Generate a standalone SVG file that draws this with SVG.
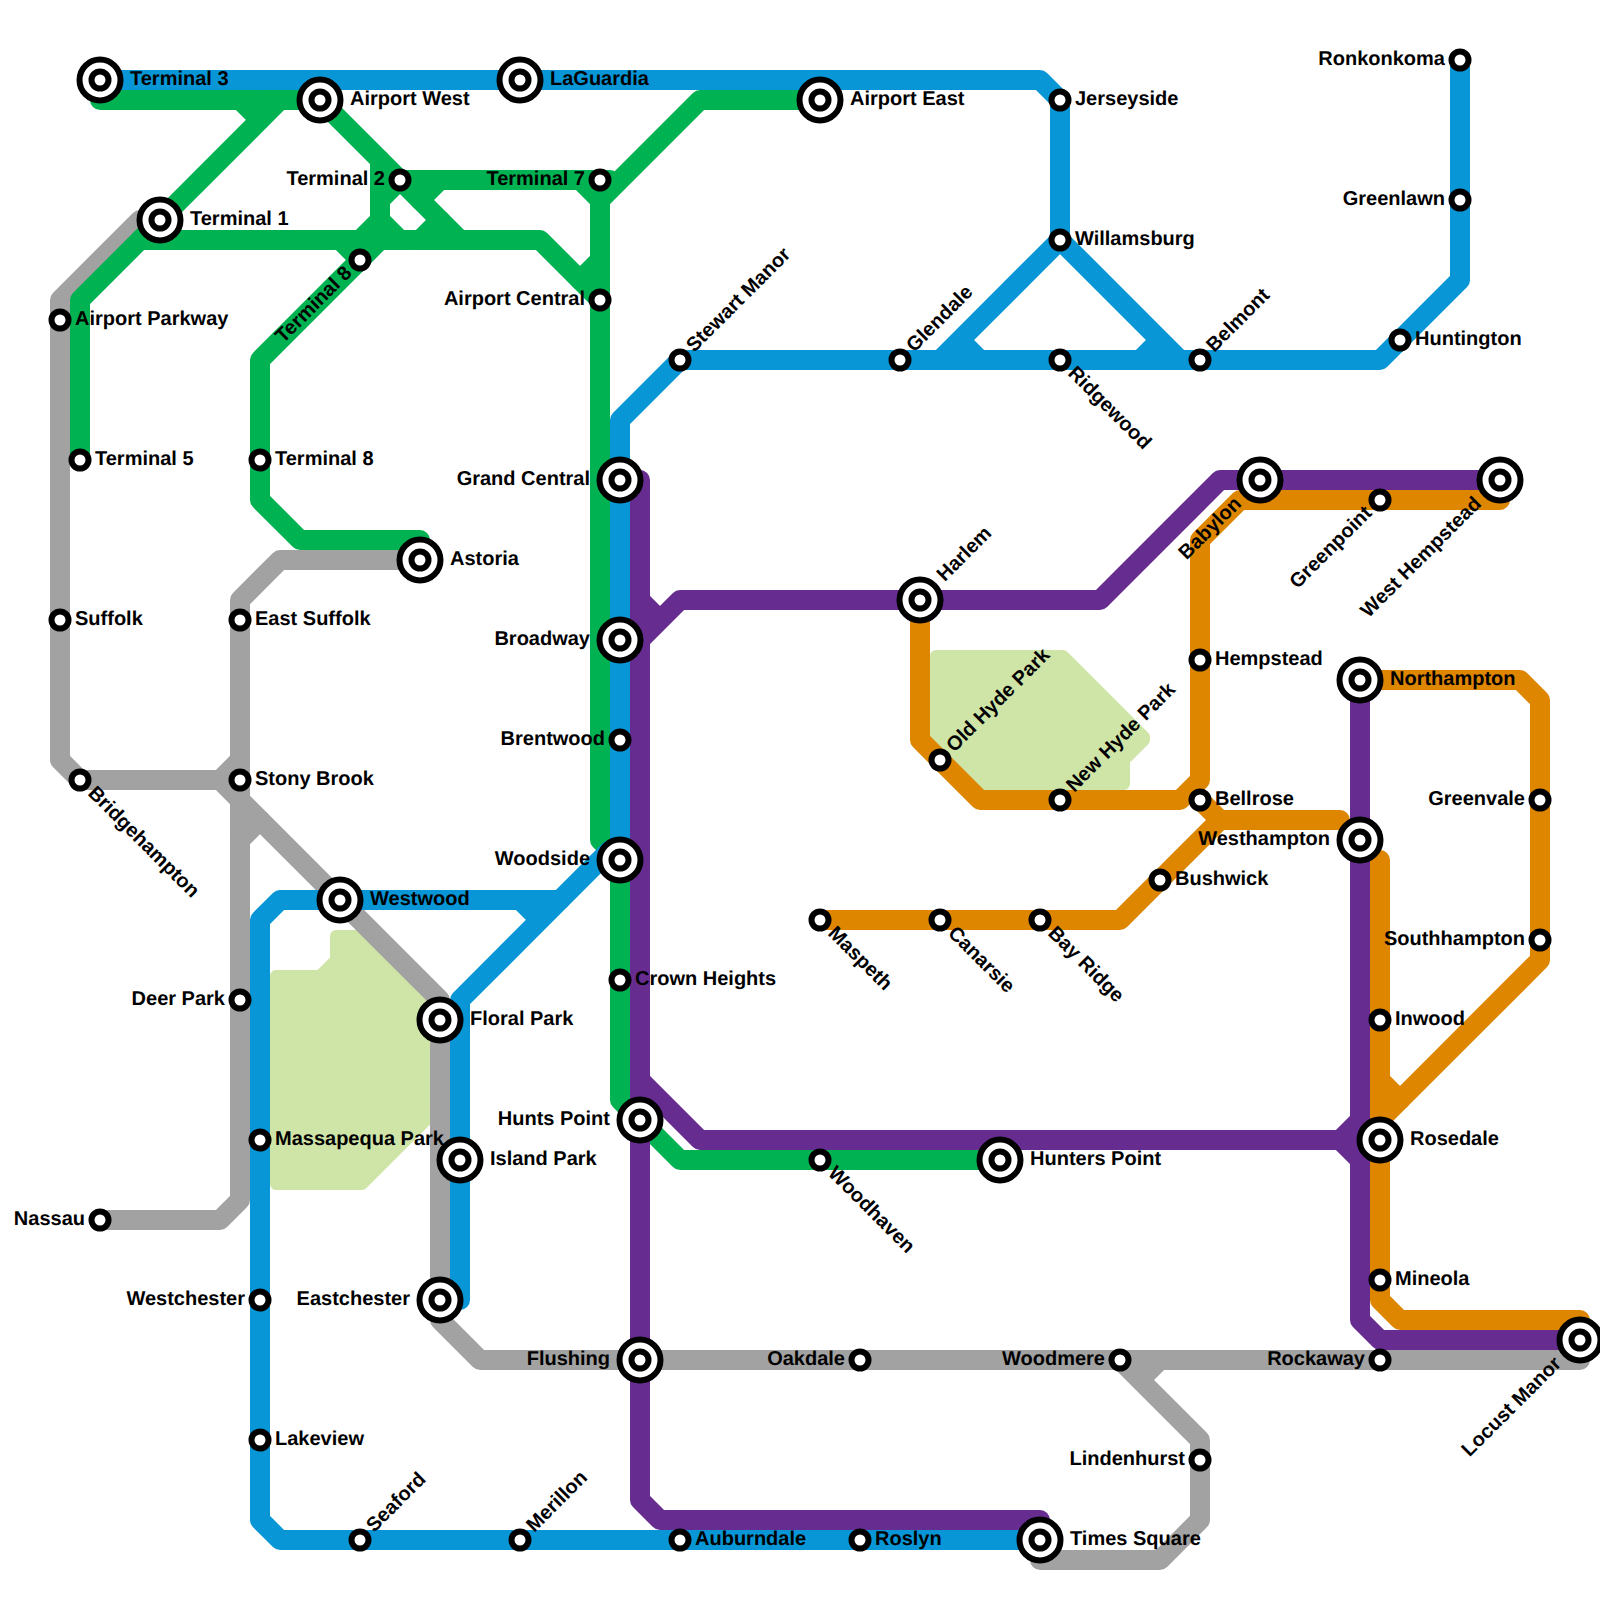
<svg xmlns="http://www.w3.org/2000/svg" width="1600" height="1600" viewBox="0 0 1600 1600">
<style>
.park{fill:#cfe4a7;stroke:#cfe4a7;stroke-width:12;stroke-linejoin:round}
.ln{fill:none;stroke-width:20;stroke-linejoin:round;stroke-linecap:round}
.gray{stroke:#a2a2a2}.green{stroke:#00b251}.blue{stroke:#0896d7}.purple{stroke:#662c90}.orange{stroke:#df8600}
.o{fill:#fff;stroke:#000;stroke-width:6}
text{font-family:"Liberation Sans",Arial,sans-serif;font-size:20px;font-weight:bold;fill:#000;text-rendering:geometricPrecision}
.e{text-anchor:end}
</style>
<rect width="1600" height="1600" fill="#fff"/>
<g id="parks">
<polygon class="park" points="276,976 320,976 336,960 336,936 355,936 440,1021 440,1106 362,1184 276,1184"/>
<polygon class="park" points="936,656 1063,656 1144,737 1144,740 1124,760 1124,784 977,784 936,743"/>
</g>
<g id="connectors">
<path class="ln gray" d="M420 560H280L240 600V1200L220 1220H100"/>
<path class="ln gray" d="M160 220H140L60 300V760L80 780H220L440 1000V1320L480 1360H1580"/>
<path class="ln gray" d="M220 780L240 760M240 840L260 820"/>
<path class="ln gray" d="M1120 1360L1200 1440V1520L1160 1560H1040M1140 1380L1160 1360"/>
<path class="ln green" d="M100 100H320L460 240"/>
<path class="ln green" d="M240 100L260 120M280 100L140 240L80 300V460"/>
<path class="ln green" d="M140 240H540L600 300"/>
<path class="ln green" d="M340 240L360 260M380 160V220L400 240M380 220L360 240M400 180L380 200"/>
<path class="ln green" d="M380 240L260 360V500L300 540H420"/>
<path class="ln green" d="M400 180H610M440 180L420 200M420 240L440 220"/>
<path class="ln green" d="M580 180L600 200L700 100H820"/>
<path class="ln green" d="M600 200V840L620 860V1100L680 1160H1000M580 280L600 260"/>
<path class="ln blue" d="M100 80H1040L1060 100V240L1180 360M1140 360L1160 340"/>
<path class="ln blue" d="M1060 240L940 360M960 340L980 360"/>
<path class="ln blue" d="M620 860V420L680 360H1380L1460 280V60"/>
<path class="ln blue" d="M610 850L460 1000V1300M520 900L540 920"/>
<path class="ln blue" d="M560 900H280L260 920V1520L280 1540H1040"/>
<path class="ln purple" d="M640 480V1500L660 1520H1040"/>
<path class="ln purple" d="M640 640L680 600H1100L1220 480H1500M640 600L660 620"/>
<path class="ln purple" d="M640 1080L700 1140H1380M1340 1140L1360 1120M1340 1140L1360 1160"/>
<path class="ln purple" d="M1360 680V1320L1380 1340H1580"/>
<path class="ln orange" d="M1500 500H1240L1200 540V780L1180 800H980L920 740V600"/>
<path class="ln orange" d="M1200 800L1220 820H1340M1220 820L1120 920H820"/>
<path class="ln orange" d="M1380 860V1300L1400 1320H1580M1380 1080L1400 1100"/>
<path class="ln orange" d="M1380 1120L1540 960V700L1520 680H1360"/>
</g>
<g id="nodes">
<g id="terminal-3"><circle class="o" cx="100" cy="80" r="20.5"/><circle class="o" cx="100" cy="80" r="8.5"/><text x="130" y="85">Terminal 3</text></g>
<g id="airport-west"><circle class="o" cx="320" cy="100" r="20.5"/><circle class="o" cx="320" cy="100" r="8.5"/><text x="350" y="105">Airport West</text></g>
<g id="laguardia"><circle class="o" cx="520" cy="80" r="20.5"/><circle class="o" cx="520" cy="80" r="8.5"/><text x="550" y="85">LaGuardia</text></g>
<g id="airport-east"><circle class="o" cx="820" cy="100" r="20.5"/><circle class="o" cx="820" cy="100" r="8.5"/><text x="850" y="105">Airport East</text></g>
<g id="terminal-1"><circle class="o" cx="160" cy="220" r="20.5"/><circle class="o" cx="160" cy="220" r="8.5"/><text x="190" y="225">Terminal 1</text></g>
<g id="astoria"><circle class="o" cx="420" cy="560" r="20.5"/><circle class="o" cx="420" cy="560" r="8.5"/><text x="450" y="565">Astoria</text></g>
<g id="westwood"><circle class="o" cx="340" cy="900" r="20.5"/><circle class="o" cx="340" cy="900" r="8.5"/><text x="370" y="905">Westwood</text></g>
<g id="floral-park"><circle class="o" cx="440" cy="1020" r="20.5"/><circle class="o" cx="440" cy="1020" r="8.5"/><text x="470" y="1025">Floral Park</text></g>
<g id="island-park"><circle class="o" cx="460" cy="1160" r="20.5"/><circle class="o" cx="460" cy="1160" r="8.5"/><text x="490" y="1165">Island Park</text></g>
<g id="times-square"><circle class="o" cx="1040" cy="1540" r="20.5"/><circle class="o" cx="1040" cy="1540" r="8.5"/><text x="1070" y="1545">Times Square</text></g>
<g id="hunters-point"><circle class="o" cx="1000" cy="1160" r="20.5"/><circle class="o" cx="1000" cy="1160" r="8.5"/><text x="1030" y="1165">Hunters Point</text></g>
<g id="rosedale"><circle class="o" cx="1380" cy="1140" r="20.5"/><circle class="o" cx="1380" cy="1140" r="8.5"/><text x="1410" y="1145">Rosedale</text></g>
<g id="northampton"><circle class="o" cx="1360" cy="680" r="20.5"/><circle class="o" cx="1360" cy="680" r="8.5"/><text x="1390" y="685">Northampton</text></g>
<g id="grand-central"><circle class="o" cx="620" cy="480" r="20.5"/><circle class="o" cx="620" cy="480" r="8.5"/><text class="e" x="590" y="485">Grand Central</text></g>
<g id="broadway"><circle class="o" cx="620" cy="640" r="20.5"/><circle class="o" cx="620" cy="640" r="8.5"/><text class="e" x="590" y="645">Broadway</text></g>
<g id="woodside"><circle class="o" cx="620" cy="860" r="20.5"/><circle class="o" cx="620" cy="860" r="8.5"/><text class="e" x="590" y="865">Woodside</text></g>
<g id="hunts-point"><circle class="o" cx="640" cy="1120" r="20.5"/><circle class="o" cx="640" cy="1120" r="8.5"/><text class="e" x="610" y="1125">Hunts Point</text></g>
<g id="eastchester"><circle class="o" cx="440" cy="1300" r="20.5"/><circle class="o" cx="440" cy="1300" r="8.5"/><text class="e" x="410" y="1305">Eastchester</text></g>
<g id="flushing"><circle class="o" cx="640" cy="1360" r="20.5"/><circle class="o" cx="640" cy="1360" r="8.5"/><text class="e" x="610" y="1365">Flushing</text></g>
<g id="westhampton"><circle class="o" cx="1360" cy="840" r="20.5"/><circle class="o" cx="1360" cy="840" r="8.5"/><text class="e" x="1330" y="845">Westhampton</text></g>
<g id="harlem"><circle class="o" cx="920" cy="600" r="20.5"/><circle class="o" cx="920" cy="600" r="8.5"/><text x="950" y="605" transform="rotate(-45 920 600)">Harlem</text></g>
<g id="babylon"><circle class="o" cx="1260" cy="480" r="20.5"/><circle class="o" cx="1260" cy="480" r="8.5"/><text class="e" x="1230" y="485" transform="rotate(-45 1260 480)">Babylon</text></g>
<g id="west-hempstead"><circle class="o" cx="1500" cy="480" r="20.5"/><circle class="o" cx="1500" cy="480" r="8.5"/><text class="e" x="1470" y="485" transform="rotate(-45 1500 480)">West Hempstead</text></g>
<g id="locust-manor"><circle class="o" cx="1580" cy="1340" r="20.5"/><circle class="o" cx="1580" cy="1340" r="8.5"/><text class="e" x="1550" y="1345" transform="rotate(-45 1580 1340)">Locust Manor</text></g>
<g id="jerseyside"><circle class="o" cx="1060" cy="100" r="8.5"/><text x="1075" y="105">Jerseyside</text></g>
<g id="willamsburg"><circle class="o" cx="1060" cy="240" r="8.5"/><text x="1075" y="245">Willamsburg</text></g>
<g id="huntington"><circle class="o" cx="1400" cy="340" r="8.5"/><text x="1415" y="345">Huntington</text></g>
<g id="airport-parkway"><circle class="o" cx="60" cy="320" r="8.5"/><text x="75" y="325">Airport Parkway</text></g>
<g id="terminal-5"><circle class="o" cx="80" cy="460" r="8.5"/><text x="95" y="465">Terminal 5</text></g>
<g id="terminal-8"><circle class="o" cx="260" cy="460" r="8.5"/><text x="275" y="465">Terminal 8</text></g>
<g id="crown-heights"><circle class="o" cx="620" cy="980" r="8.5"/><text x="635" y="985">Crown Heights</text></g>
<g id="east-suffolk"><circle class="o" cx="240" cy="620" r="8.5"/><text x="255" y="625">East Suffolk</text></g>
<g id="suffolk"><circle class="o" cx="60" cy="620" r="8.5"/><text x="75" y="625">Suffolk</text></g>
<g id="stony-brook"><circle class="o" cx="240" cy="780" r="8.5"/><text x="255" y="785">Stony Brook</text></g>
<g id="massapequa-park"><circle class="o" cx="260" cy="1140" r="8.5"/><text x="275" y="1145">Massapequa Park</text></g>
<g id="lakeview"><circle class="o" cx="260" cy="1440" r="8.5"/><text x="275" y="1445">Lakeview</text></g>
<g id="auburndale"><circle class="o" cx="680" cy="1540" r="8.5"/><text x="695" y="1545">Auburndale</text></g>
<g id="roslyn"><circle class="o" cx="860" cy="1540" r="8.5"/><text x="875" y="1545">Roslyn</text></g>
<g id="mineola"><circle class="o" cx="1380" cy="1280" r="8.5"/><text x="1395" y="1285">Mineola</text></g>
<g id="inwood"><circle class="o" cx="1380" cy="1020" r="8.5"/><text x="1395" y="1025">Inwood</text></g>
<g id="bellrose"><circle class="o" cx="1200" cy="800" r="8.5"/><text x="1215" y="805">Bellrose</text></g>
<g id="hempstead"><circle class="o" cx="1200" cy="660" r="8.5"/><text x="1215" y="665">Hempstead</text></g>
<g id="bushwick"><circle class="o" cx="1160" cy="880" r="8.5"/><text x="1175" y="885">Bushwick</text></g>
<g id="ronkonkoma"><circle class="o" cx="1460" cy="60" r="8.5"/><text class="e" x="1445" y="65">Ronkonkoma</text></g>
<g id="greenlawn"><circle class="o" cx="1460" cy="200" r="8.5"/><text class="e" x="1445" y="205">Greenlawn</text></g>
<g id="terminal-2"><circle class="o" cx="400" cy="180" r="8.5"/><text class="e" x="385" y="185">Terminal 2</text></g>
<g id="terminal-7"><circle class="o" cx="600" cy="180" r="8.5"/><text class="e" x="585" y="185">Terminal 7</text></g>
<g id="airport-central"><circle class="o" cx="600" cy="300" r="8.5"/><text class="e" x="585" y="305">Airport Central</text></g>
<g id="brentwood"><circle class="o" cx="620" cy="740" r="8.5"/><text class="e" x="605" y="745">Brentwood</text></g>
<g id="deer-park"><circle class="o" cx="240" cy="1000" r="8.5"/><text class="e" x="225" y="1005">Deer Park</text></g>
<g id="nassau"><circle class="o" cx="100" cy="1220" r="8.5"/><text class="e" x="85" y="1225">Nassau</text></g>
<g id="westchester"><circle class="o" cx="260" cy="1300" r="8.5"/><text class="e" x="245" y="1305">Westchester</text></g>
<g id="oakdale"><circle class="o" cx="860" cy="1360" r="8.5"/><text class="e" x="845" y="1365">Oakdale</text></g>
<g id="woodmere"><circle class="o" cx="1120" cy="1360" r="8.5"/><text class="e" x="1105" y="1365">Woodmere</text></g>
<g id="rockaway"><circle class="o" cx="1380" cy="1360" r="8.5"/><text class="e" x="1365" y="1365">Rockaway</text></g>
<g id="lindenhurst"><circle class="o" cx="1200" cy="1460" r="8.5"/><text class="e" x="1185" y="1465">Lindenhurst</text></g>
<g id="greenvale"><circle class="o" cx="1540" cy="800" r="8.5"/><text class="e" x="1525" y="805">Greenvale</text></g>
<g id="southhampton"><circle class="o" cx="1540" cy="940" r="8.5"/><text class="e" x="1525" y="945">Southhampton</text></g>
<g id="stewart-manor"><circle class="o" cx="680" cy="360" r="8.5"/><text x="695" y="365" transform="rotate(-45 680 360)">Stewart Manor</text></g>
<g id="glendale"><circle class="o" cx="900" cy="360" r="8.5"/><text x="915" y="365" transform="rotate(-45 900 360)">Glendale</text></g>
<g id="belmont"><circle class="o" cx="1200" cy="360" r="8.5"/><text x="1215" y="365" transform="rotate(-45 1200 360)">Belmont</text></g>
<g id="seaford"><circle class="o" cx="360" cy="1540" r="8.5"/><text x="375" y="1545" transform="rotate(-45 360 1540)">Seaford</text></g>
<g id="merillon"><circle class="o" cx="520" cy="1540" r="8.5"/><text x="535" y="1545" transform="rotate(-45 520 1540)">Merillon</text></g>
<g id="old-hyde-park"><circle class="o" cx="940" cy="760" r="8.5"/><text x="955" y="765" transform="rotate(-45 940 760)">Old Hyde Park</text></g>
<g id="new-hyde-park"><circle class="o" cx="1060" cy="800" r="8.5"/><text x="1075" y="805" transform="rotate(-45 1060 800)">New Hyde Park</text></g>
<g id="terminal-8-diagonal"><circle class="o" cx="360" cy="260" r="8.5"/><text class="e" x="345" y="265" transform="rotate(-45 360 260)">Terminal 8</text></g>
<g id="greenpoint"><circle class="o" cx="1380" cy="500" r="8.5"/><text class="e" x="1365" y="505" transform="rotate(-45 1380 500)">Greenpoint</text></g>
<g id="bridgehampton"><circle class="o" cx="80" cy="780" r="8.5"/><text x="95" y="785" transform="rotate(45 80 780)">Bridgehampton</text></g>
<g id="ridgewood"><circle class="o" cx="1060" cy="360" r="8.5"/><text x="1075" y="365" transform="rotate(45 1060 360)">Ridgewood</text></g>
<g id="maspeth"><circle class="o" cx="820" cy="920" r="8.5"/><text x="835" y="925" transform="rotate(45 820 920)">Maspeth</text></g>
<g id="canarsie"><circle class="o" cx="940" cy="920" r="8.5"/><text x="955" y="925" transform="rotate(45 940 920)">Canarsie</text></g>
<g id="bay-ridge"><circle class="o" cx="1040" cy="920" r="8.5"/><text x="1055" y="925" transform="rotate(45 1040 920)">Bay Ridge</text></g>
<g id="woodhaven"><circle class="o" cx="820" cy="1160" r="8.5"/><text x="835" y="1165" transform="rotate(45 820 1160)">Woodhaven</text></g>
</g>
</svg>
